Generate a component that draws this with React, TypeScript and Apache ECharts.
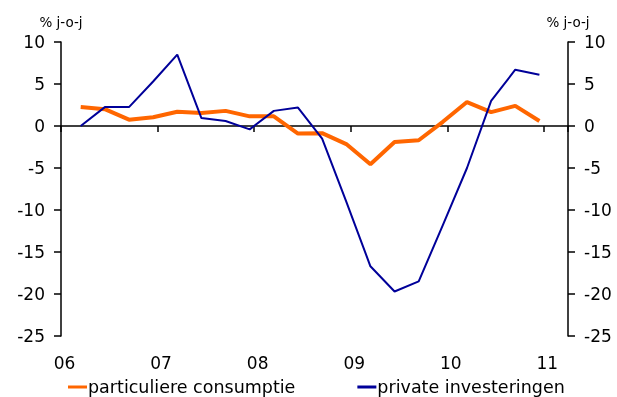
import React, { useEffect, useRef } from "react";
import * as echarts from "echarts";

// Quarterly data, 2006 Q1 .. 2010 Q4 (% j-o-j)
const quarters = [
  "2006Q1", "2006Q2", "2006Q3", "2006Q4",
  "2007Q1", "2007Q2", "2007Q3", "2007Q4",
  "2008Q1", "2008Q2", "2008Q3", "2008Q4",
  "2009Q1", "2009Q2", "2009Q3", "2009Q4",
  "2010Q1", "2010Q2", "2010Q3", "2010Q4",
];
const consumptie = [
  2.25, 2.0, 0.75, 1.05, 1.7, 1.55, 1.8, 1.15, 1.15, -0.9,
  -0.85, -2.15, -4.55, -1.9, -1.7, 0.5, 2.85, 1.65, 2.4, 0.6,
];
const investeringen = [
  0.0, 2.25, 2.25, 5.3, 8.5, 0.95, 0.6, -0.4, 1.8, 2.2,
  -1.5, -9.0, -16.7, -19.7, -18.5, -11.8, -5.0, 3.0, 6.7, 6.1,
];
const yearTicks = [2006, 2007, 2008, 2009, 2010, 2011];
const seriesNames = ["particuliere consumptie", "private investeringen"];
const unitLabel = "% j-o-j";

const quarterPos = (q: string) => {
  const year = Number(q.slice(0, 4));
  const qn = Number(q.slice(5));
  return year + 0.204 + (qn - 1) * 0.25;
};

const FONT = "DejaVu Sans";

export default function App() {
  const ref = useRef<HTMLDivElement>(null);
  useEffect(() => {
    if (!ref.current) return;
    const chart = echarts.init(ref.current, undefined, { renderer: "svg" });
    const yAxisBase = {
      type: "value" as const,
      min: -25,
      max: 10,
      interval: 5,
      splitLine: { show: false },
      axisLine: { show: true, lineStyle: { color: "#000", width: 1.5 } },
      axisTick: { show: true, length: 7, lineStyle: { color: "#000", width: 1.5 } },
      name: unitLabel,
      nameGap: 13,
      nameTextStyle: { fontFamily: FONT, fontSize: 13.5, color: "#000", align: "center" },
      axisLabel: { fontFamily: FONT, fontSize: 17, color: "#000", margin: 16 },
    };
    chart.setOption({
      animation: false,
      grid: { left: 61, right: 49, top: 42, bottom: 61, containLabel: false },
      legend: {
        top: 373,
        left: 63,
        itemGap: 62,
        itemWidth: 19,
        itemHeight: 3,
        icon: "rect",
        textStyle: { fontFamily: FONT, fontSize: 17.5, color: "#000", padding: [0, 0, 0, -4] },
        data: seriesNames,
      },
      xAxis: [
        {
          type: "value",
          min: 2006,
          max: 2011.25,
          interval: 1,
          position: "bottom",
          axisLine: { show: false, onZero: false },
          axisTick: { show: false },
          splitLine: { show: false },
          axisLabel: {
            fontFamily: FONT,
            fontSize: 17,
            color: "#000",
            margin: 18,
            padding: [0, 0, 0, 7],
            showMaxLabel: false,
            formatter: (v: number) =>
              yearTicks.includes(v) ? String(v).slice(2) : "",
          },
        },
        {
          type: "value",
          min: 2006,
          max: 2011.25,
          interval: 1,
          position: "top",
          axisLine: { show: true, onZero: true, lineStyle: { color: "#000", width: 1.5 } },
          axisTick: { show: true, inside: true, length: 6, lineStyle: { color: "#000", width: 1.5 } },
          axisLabel: { show: false },
          splitLine: { show: false },
        },
      ],
      yAxis: [
        { ...yAxisBase, position: "left" },
        { ...yAxisBase, position: "right" },
      ],
      series: [
        {
          name: seriesNames[0],
          type: "line",
          xAxisIndex: 0,
          yAxisIndex: 0,
          symbol: "none",
          itemStyle: { color: "#ff6600" },
          lineStyle: { color: "#ff6600", width: 4 },
          data: quarters.map((q, i) => [quarterPos(q), consumptie[i]]),
          z: 3,
        },
        {
          name: seriesNames[1],
          type: "line",
          xAxisIndex: 0,
          yAxisIndex: 0,
          symbol: "none",
          itemStyle: { color: "#000099" },
          lineStyle: { color: "#000099", width: 2 },
          data: quarters.map((q, i) => [quarterPos(q), investeringen[i]]),
          z: 4,
        },
      ],
    });
    return () => chart.dispose();
  }, []);
  return (
    <div
      ref={ref}
      style={{ position: "fixed", left: 0, top: 0, width: 617, height: 397 }}
    />
  );
}
